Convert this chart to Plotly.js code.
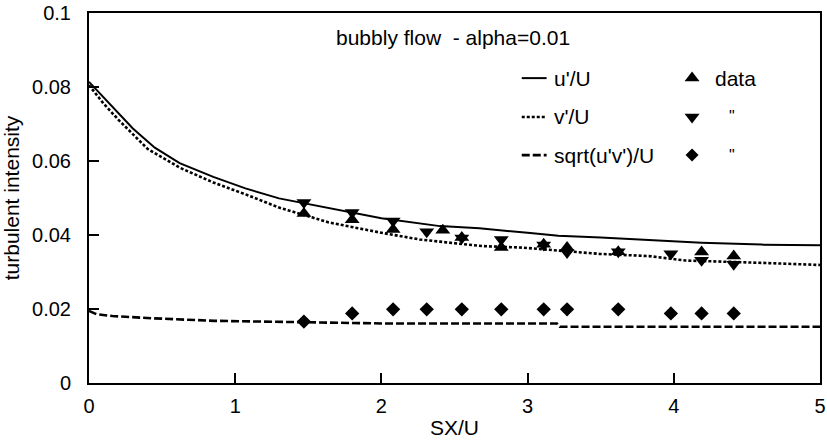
<!DOCTYPE html>
<html>
<head>
<meta charset="utf-8">
<script src="https://cdn.plot.ly/plotly-3.0.1.min.js"></script>
<style>html,body{margin:0;padding:0;background:#fff;}#chart{width:827px;height:442px;}</style>
</head>
<body>
<div id="chart"></div>
<script>
// ---- data ----
var uCurveX = [0, 0.1, 0.2, 0.3, 0.45, 0.62, 0.85, 1.07, 1.3, 1.53, 1.87, 2.0, 2.4, 2.67, 3.0, 3.21, 3.5, 3.81, 4.19, 4.6, 5.0];
var uCurveY = [0.0814, 0.0772, 0.0730, 0.0688, 0.0636, 0.0594, 0.0557, 0.0526, 0.0499, 0.0481, 0.0454, 0.0445, 0.0424, 0.0418, 0.0406, 0.0398, 0.0393, 0.0386, 0.0379, 0.0374, 0.0372];

var vCurveX = [0, 0.1, 0.2, 0.28, 0.4, 0.62, 0.85, 1.07, 1.3, 1.53, 1.64, 2.0, 2.26, 2.4, 2.69, 2.96, 3.35, 3.49, 3.83, 4.08, 4.58, 5.0];
var vCurveY = [0.0805, 0.0755, 0.0712, 0.0680, 0.0633, 0.0582, 0.0542, 0.0510, 0.0474, 0.0447, 0.0434, 0.0406, 0.0388, 0.0382, 0.0370, 0.0366, 0.0352, 0.0349, 0.0343, 0.0331, 0.0325, 0.0319];

var sCurveX = [0, 0.05, 0.16, 0.43, 0.86, 1.4, 2.0, 3.2, 3.22, 5.0];
var sCurveY = [0.0195, 0.0186, 0.0181, 0.0175, 0.0168, 0.0165, 0.0161, 0.0161, 0.0152, 0.0152];

var uDataX = [1.47, 1.80, 2.08, 2.42, 2.55, 2.82, 3.11, 3.27, 3.62, 4.19, 4.41];
var uDataY = [0.0458, 0.0441, 0.0415, 0.0413, 0.0393, 0.0366, 0.0375, 0.0366, 0.0355, 0.0354, 0.0343];

var vDataX = [1.47, 1.80, 2.08, 2.31, 2.55, 2.82, 3.11, 3.27, 3.62, 3.98, 4.19, 4.41];
var vDataY = [0.0488, 0.0461, 0.0438, 0.0409, 0.0392, 0.0388, 0.0373, 0.0353, 0.0355, 0.0349, 0.0332, 0.0321];

var sDataX = [1.47, 1.80, 2.08, 2.31, 2.55, 2.82, 3.11, 3.27, 3.62, 3.98, 4.19, 4.41];
var sDataY = [0.0166, 0.0188, 0.0199, 0.0199, 0.0199, 0.0199, 0.0199, 0.0199, 0.0199, 0.0188, 0.0188, 0.0188];

var xTickVals = [0, 1, 2, 3, 4, 5];
var yTickVals = [0, 0.02, 0.04, 0.06, 0.08, 0.1];
var yTickText = ['0', '0.02', '0.04', '0.06', '0.08', '0.1'];

var titleText = 'bubbly flow \u00a0- alpha=0.01';
var legendLabels = ["u'/U", "v'/U", "sqrt(u'v')/U"];
var legendRight = ['data', '"', '"'];

// ---- layout config (positions / styles) ----
var FONT = 'Liberation Sans, Arial, Helvetica, sans-serif';
var legRowsY = [0.824, 0.719, 0.616];
var legLineX0 = 0.592, legLineX1 = 0.626, legTextX = 0.634;
var legMarkX = 0.825, legRightTextX = [0.854, 0.879, 0.879];
var dashes = ['solid', '3px,2px', '8px,3px'];
var widths = [2, 2.6, 2.6];
var symbols = ['triangle-up', 'triangle-down', 'diamond'];
var symSizes = [13, 13, 11];

var traces = [
  {x: uCurveX, y: uCurveY, mode: 'lines', line: {color: '#000', width: widths[0], dash: dashes[0]}},
  {x: vCurveX, y: vCurveY, mode: 'lines', line: {color: '#000', width: widths[1], dash: dashes[1]}},
  {x: sCurveX, y: sCurveY, mode: 'lines', line: {color: '#000', width: widths[2], dash: dashes[2]}},
  {x: uDataX, y: uDataY, mode: 'markers', marker: {symbol: symbols[0], size: symSizes[0], color: '#000'}},
  {x: vDataX, y: vDataY, mode: 'markers', marker: {symbol: symbols[1], size: symSizes[1], color: '#000'}},
  {x: sDataX, y: sDataY, mode: 'markers', marker: {symbol: symbols[2], size: symSizes[2], color: '#000'}}
];

// legend key markers on an invisible overlay axis (0..1 paper-like)
for (var i = 0; i < 3; i++) {
  traces.push({x: [legMarkX], y: [legRowsY[i]], xaxis: 'x2', yaxis: 'y2', mode: 'markers',
    marker: {symbol: symbols[i], size: symSizes[i] + (i === 2 ? -1 : 0), color: '#000'}, hoverinfo: 'skip'});
}

var annotations = [{
  text: titleText, xref: 'paper', yref: 'paper', x: 0.498, y: 0.935,
  xanchor: 'center', yanchor: 'middle', showarrow: false, font: {family: FONT, size: 21, color: '#000'}
}];
var shapes = [];
for (var j = 0; j < 3; j++) {
  annotations.push({text: legendLabels[j], xref: 'paper', yref: 'paper', x: legTextX, y: legRowsY[j],
    xanchor: 'left', yanchor: 'middle', showarrow: false, font: {family: FONT, size: 21, color: '#000'}});
  annotations.push({text: legendRight[j], xref: 'paper', yref: 'paper', x: legRightTextX[j], y: legRowsY[j],
    xanchor: j === 0 ? 'left' : 'center', yanchor: 'middle', showarrow: false, font: {family: FONT, size: j === 0 ? 21 : 16, color: '#000'}});
  shapes.push({type: 'line', xref: 'paper', yref: 'paper', x0: legLineX0, x1: legLineX1, y0: legRowsY[j], y1: legRowsY[j],
    line: {color: '#000', width: widths[j], dash: dashes[j]}});
}

var axisCommon = {
  showgrid: false, zeroline: false, showline: true, linecolor: '#000', linewidth: 2, mirror: true,
  ticks: 'inside', ticklen: 10, tickwidth: 2, tickcolor: '#000',
  tickfont: {family: FONT, size: 20, color: '#000'}
};

var layout = {
  width: 827, height: 442,
  margin: {l: 89, r: 7, t: 13, b: 59},
  paper_bgcolor: '#fff', plot_bgcolor: '#fff',
  showlegend: false,
  font: {family: FONT, color: '#000'},
  xaxis: Object.assign({}, axisCommon, {
    range: [0, 5], tickvals: xTickVals, ticklabelstandoff: 4,
    title: {text: 'SX/U', font: {family: FONT, size: 21, color: '#000'}, standoff: 4}
  }),
  yaxis: Object.assign({}, axisCommon, {
    range: [0, 0.1], tickvals: yTickVals, ticktext: yTickText, ticklabelstandoff: 12,
    title: {text: 'turbulent intensity', font: {family: FONT, size: 21, color: '#000'}, standoff: 8}
  }),
  xaxis2: {overlaying: 'x', range: [0, 1], visible: false, anchor: 'y2'},
  yaxis2: {overlaying: 'y', range: [0, 1], visible: false, anchor: 'x2'},
  annotations: annotations,
  shapes: shapes
};

Plotly.newPlot('chart', traces, layout, {staticPlot: true, displayModeBar: false});
</script>
</body>
</html>
